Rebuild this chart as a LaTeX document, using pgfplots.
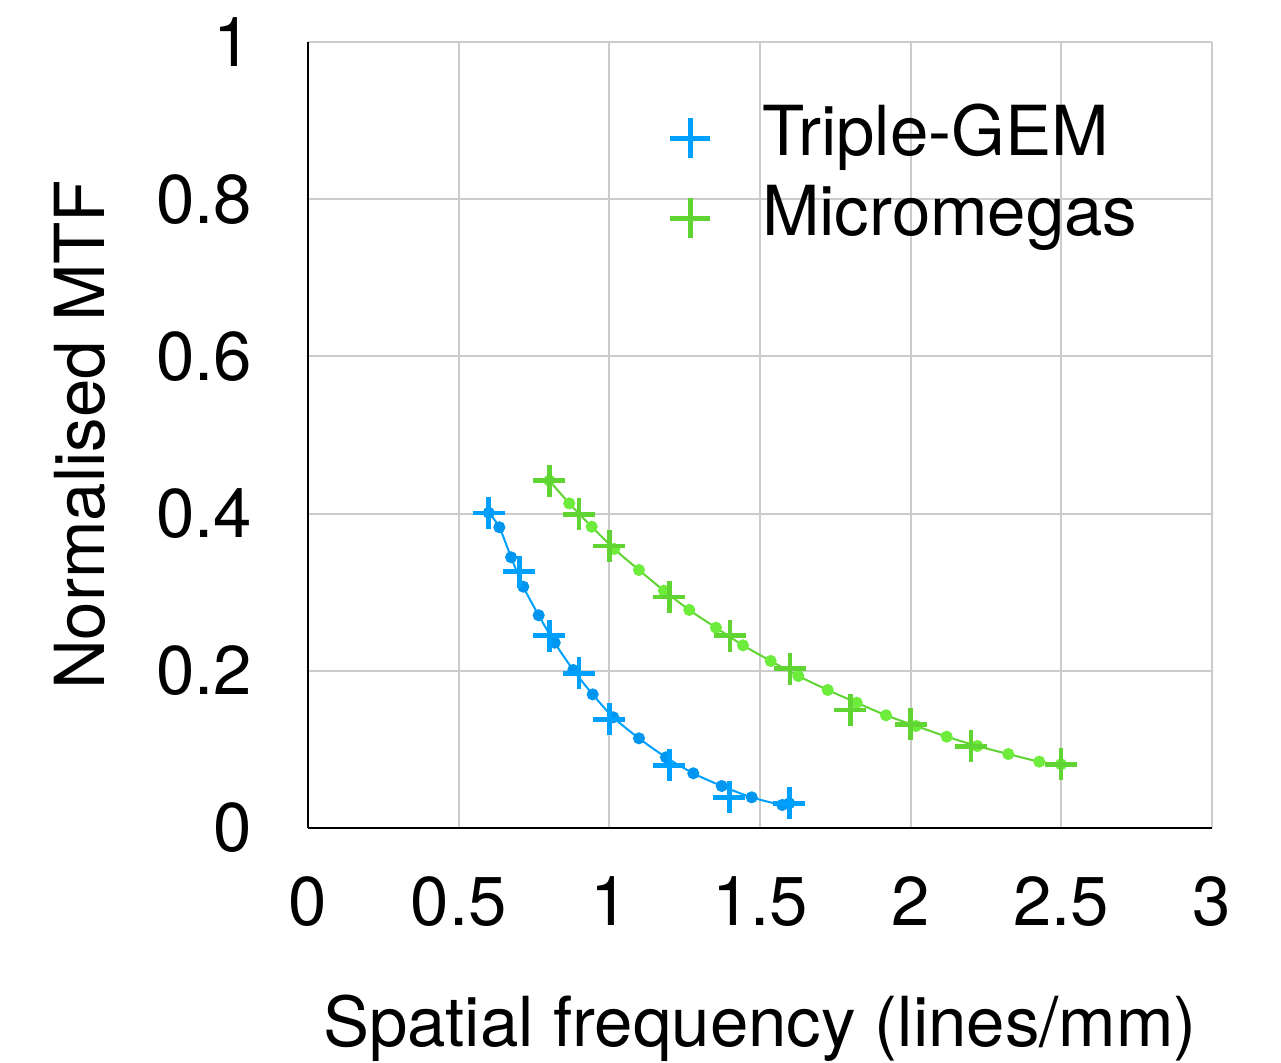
\documentclass[border=0pt]{standalone}
\usepackage{pgfplots}
\pgfplotsset{compat=1.18}
\usepackage{fontspec}
\setmainfont{TeX Gyre Heros}
\definecolor{gemblue}{RGB}{0,160,255}
\definecolor{gemdot}{RGB}{0,150,240}
\definecolor{mmgreen}{RGB}{95,212,50}
\definecolor{mmgreenlt}{RGB}{110,236,60}
\begin{document}
\begin{tikzpicture}[font=\fontsize{34.5}{42}\selectfont]
\begin{axis}[
  width=452pt, height=393pt, scale only axis,
  xmin=0, xmax=3, ymin=0, ymax=1,
  xtick={0,0.5,1,1.5,2,2.5,3},
  ytick={0,0.2,0.4,0.6,0.8,1},
  grid=major, grid style={line width=1pt, color=black!20},
  axis lines=left, axis line style={-, line width=1.2pt, black},
  major tick length=0pt,
  /pgf/number format/assume math mode=true,
  tick label style={font=\fontsize{34.5}{42}\selectfont},
  xticklabel style={yshift=-21pt},
  yticklabel style={xshift=-24.5pt},
  xlabel={Spatial frequency (lines/mm)},
  ylabel={Normalised MTF},
  xlabel style={at={(axis description cs:0.5,-0.2786)}, anchor=base, font=\fontsize{34.5}{42}\selectfont},
  ylabel style={at={(axis description cs:-0.2246,0.5)}, anchor=base, rotate=0, font=\fontsize{34.5}{42}\selectfont},
  legend style={at={(axis description cs:0.4005,0.922)}, anchor=north west, draw=none, fill=none,
    inner sep=0pt, outer sep=0pt, column sep=26pt, row sep=5pt,
    nodes={inner sep=0pt, text height=26pt, text depth=9pt},
    font=\fontsize{34.5}{42}\selectfont},
  legend cell align=left,
]
\addlegendimage{only marks, mark=+, mark size=10pt, line width=2.5pt, gemblue}
\addlegendentry{Triple-GEM}
\addlegendimage{only marks, mark=+, mark size=10pt, line width=2.5pt, mmgreen}
\addlegendentry{Micromegas}

% fitted curves (through first point, curve dots, last point)
\addplot[forget plot, gemblue, line width=1pt, smooth, mark=*, mark size=2.5pt, mark options={fill=gemdot, draw=gemdot}] coordinates {
(0.600,0.401)
(0.635,0.3826) (0.674,0.3444) (0.7145,0.307) (0.7656,0.2706) (0.8187,0.2357)
(0.8804,0.201) (0.9448,0.170) (1.0132,0.1408) (1.0984,0.1141) (1.188,0.0899)
(1.2787,0.0696) (1.373,0.0534) (1.4725,0.039) (1.574,0.0293)
(1.597,0.0314)
};
\addplot[forget plot, mmgreen, line width=1pt, smooth, mark=*, mark size=2.5pt, mark options={fill=mmgreenlt, draw=mmgreenlt}] coordinates {
(0.801,0.4419)
(0.867,0.413) (0.9415,0.3833) (1.0165,0.355) (1.0985,0.3282) (1.1814,0.3019)
(1.2654,0.2774) (1.354,0.2548) (1.4436,0.2324) (1.5355,0.2125) (1.6271,0.1934)
(1.7247,0.1756) (1.8209,0.1594) (1.9182,0.1434) (2.0177,0.1298) (2.1196,0.1162)
(2.2212,0.1043) (2.324,0.0941) (2.4269,0.0844)
(2.499,0.081)
};
% measured points
\addplot[forget plot, only marks, mark=+, mark size=8pt, line width=2.3pt, gemblue] coordinates {
(0.600,0.401) (0.701,0.326) (0.801,0.2447) (0.900,0.1968) (1.000,0.1383)
(1.199,0.0798) (1.398,0.039) (1.597,0.0314)
};
\addplot[forget plot, only marks, mark=+, mark size=8pt, line width=2.3pt, mmgreen] coordinates {
(0.801,0.4419) (0.900,0.399) (1.000,0.359) (1.199,0.294) (1.400,0.2447)
(1.600,0.2027) (1.800,0.150) (2.000,0.132) (2.200,0.104) (2.499,0.081)
};
\end{axis}
\pgfresetboundingbox
\path (-154pt,-117.5pt) rectangle (486.5pt,414pt);
\end{tikzpicture}
\end{document}
